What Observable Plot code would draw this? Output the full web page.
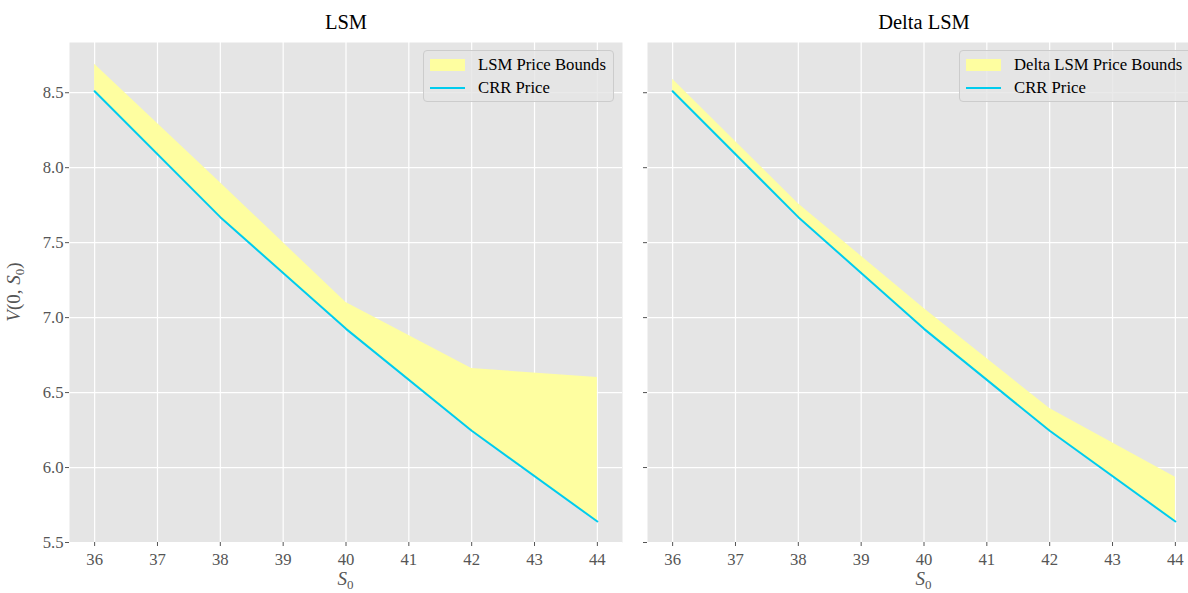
<!DOCTYPE html>
<html>
<head>
<meta charset="utf-8">
<script src="https://cdn.jsdelivr.net/npm/d3@7"></script>
<script src="https://cdn.jsdelivr.net/npm/@observablehq/plot@0.6"></script>
<style>
  html, body { margin:0; padding:0; width:1188px; height:593px; overflow:hidden; background:#fff; }
  #wrap { position:relative; width:1188px; height:593px; overflow:hidden; font-family:"Liberation Serif", "DejaVu Serif", serif; }
  .panel { position:absolute; top:0; }
  .panel svg { max-width:none !important; }
  .legend { position:absolute; top:50px; height:52px; background:rgba(229,229,229,0.8); border:1px solid #cccccc; border-radius:4px; box-sizing:border-box; }
  .legend .row { position:absolute; left:0; height:20px; font-size:16.7px; color:#000; white-space:nowrap; }
  .legend .patch { position:absolute; left:6px; top:4px; width:35px; height:12px; background:#fefea0; }
  .legend .ln { position:absolute; left:6px; top:9px; width:35px; height:2px; background:#00ccee; }
  .legend .txt { position:absolute; left:54px; top:0px; line-height:20px; }
</style>
</head>
<body>
<div id="wrap"></div>
<script>
// ---- data ----
const S0 = [36, 38, 40, 42, 44];
const crrPrice = [8.51, 7.67, 6.925, 6.245, 5.64];
const lsmUpper = [8.69, 7.90, 7.10, 6.66, 6.60];
const lsmLower = [8.51, 7.67, 6.925, 6.245, 5.64];
const deltaUpper = [8.59, 7.76, 7.06, 6.393, 5.935];
const deltaLower = [8.51, 7.67, 6.925, 6.245, 5.64];
const xTicks = [36, 37, 38, 39, 40, 41, 42, 43, 44];
const yTicks = [5.5, 6.0, 6.5, 7.0, 7.5, 8.0, 8.5];
const titles = ["LSM", "Delta LSM"];
const legendLabels = ["LSM Price Bounds", "Delta LSM Price Bounds"];
const lineLabel = "CRR Price";

const FILL = "#fefea0";
const LINE = "#00ccee";
const FONT = "Liberation Serif";

function makeRows(lower, upper) {
  return S0.map((x, i) => ({x, lo: lower[i], hi: upper[i], crr: crrPrice[i]}));
}

function panel({rows, title, width, mL, mR, showYLabels}) {
  const svg = Plot.plot({
    width, height: 593,
    marginTop: 42, marginBottom: 51, marginLeft: mL, marginRight: mR,
    style: {fontFamily: FONT, fontSize: "16.7px", color: "#555555", background: "transparent", overflow: "visible", maxWidth: "none"},
    x: {domain: [35.6, 44.4], label: null},
    y: {domain: [5.5, 8.835], label: null},
    marks: [
      Plot.frame({fill: "#e5e5e5", stroke: null}),
      Plot.gridX(xTicks, {stroke: "#ffffff", strokeOpacity: 1, strokeWidth: 1.2}),
      Plot.gridY(yTicks, {stroke: "#ffffff", strokeOpacity: 1, strokeWidth: 1.2}),
      Plot.areaY(rows, {x: "x", y1: "lo", y2: "hi", fill: FILL, fillOpacity: 1}),
      Plot.lineY(rows, {x: "x", y: "crr", stroke: LINE, strokeWidth: 2}),
      Plot.axisX({ticks: xTicks, tickSize: 4, tickPadding: 7, stroke: "#555555", label: null, tickFormat: d3.format("d")}),
      Plot.axisY({ticks: yTicks, tickSize: 4, tickPadding: 2, stroke: "#555555", label: null,
        tickFormat: showYLabels ? d3.format(".1f") : () => ""}),
      Plot.text([title], {frameAnchor: "top", dy: -28, fontSize: 20.5, fontWeight: "normal", fill: "#000000", text: d => d})
    ]
  });
  svg.style.maxWidth = "none";
  const s = d3.select(svg);
  const cx = mL + (width - mL - mR) / 2;
  const t = s.append("text")
    .attr("x", cx).attr("y", 585)
    .attr("text-anchor", "middle")
    .attr("font-family", FONT).attr("font-size", 19).attr("fill", "#555555");
  t.append("tspan").attr("font-style", "italic").text("S");
  t.append("tspan").attr("font-size", 13).attr("dy", 4).text("0");
  return svg;
}

const wrap = document.getElementById("wrap");

const left = panel({rows: makeRows(lsmLower, lsmUpper), title: titles[0], width: 640, mL: 69, mR: 18, showYLabels: true});
const d1 = document.createElement("div"); d1.className = "panel"; d1.style.left = "0px"; d1.style.width = "640px"; d1.appendChild(left); wrap.appendChild(d1);

const right = panel({rows: makeRows(deltaLower, deltaUpper), title: titles[1], width: 600, mL: 27, mR: 20, showYLabels: false});
const d2 = document.createElement("div"); d2.className = "panel"; d2.style.left = "620px"; d2.style.width = "600px"; d2.appendChild(right); wrap.appendChild(d2);

// y-axis label V(0, S_0)
{
  const s = d3.select(left);
  const t = s.append("text")
    .attr("transform", "translate(20,292) rotate(-90)")
    .attr("text-anchor", "middle")
    .attr("font-family", FONT).attr("font-size", 19).attr("fill", "#555555");
  t.append("tspan").attr("font-style", "italic").text("V");
  t.append("tspan").text("(0, ");
  t.append("tspan").attr("font-style", "italic").text("S");
  t.append("tspan").attr("font-size", 13).attr("dy", 4).text("0");
  t.append("tspan").attr("dy", -4).text(")");
}

// legends
function legend(leftPx, widthPx, label) {
  const box = document.createElement("div");
  box.className = "legend";
  box.style.left = leftPx + "px";
  box.style.width = widthPx + "px";
  box.innerHTML =
    `<div class="row" style="top:4px"><div class="patch"></div><div class="txt"></div></div>` +
    `<div class="row" style="top:27px"><div class="ln"></div><div class="txt"></div></div>`;
  const txts = box.querySelectorAll(".txt");
  txts[0].textContent = label;
  txts[1].textContent = lineLabel;
  wrap.appendChild(box);
}
legend(423, 191, legendLabels[0]);
legend(959, 234, legendLabels[1]);
</script>
</body>
</html>
